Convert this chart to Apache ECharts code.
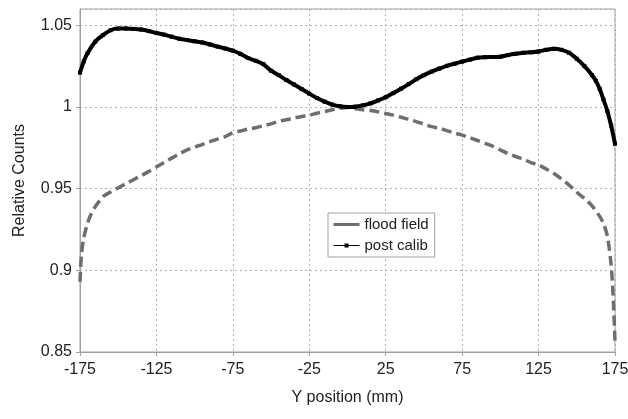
<!DOCTYPE html>
<html>
    <head>
        <meta charset="utf-8">
        <title>Relative Counts</title>
        <script src="https://cdn.jsdelivr.net/npm/echarts@6/dist/echarts.min.js"></script>
        <style>
            html, body { margin: 0; padding: 0; background: #fff; }
            #chart { width: 628px; height: 419px; }
        </style>
    </head>
    <body>
        <div id="chart"></div>
    <script type="text/javascript">
        // post calib (black)
        var calibX = [-175, -172.5, -170, -165, -160, -155, -150, -145, -140, -135, -130, -125, -120, -115, -110, -105, -100, -95, -90, -85, -80, -75, -70, -65, -60, -55, -50, -45, -40, -35, -30, -25, -20, -15, -10, -5, 0, 5, 10, 15, 20, 25, 30, 35, 40, 45, 50, 55, 60, 65, 70, 75, 80, 85, 90, 95, 100, 105, 110, 115, 120, 125, 130, 135, 140, 145, 150, 155, 160, 162.5, 165, 167.5, 170, 172.5, 175];
        var calibY = [1.021, 1.028, 1.033, 1.040, 1.044, 1.047, 1.048, 1.048, 1.0478, 1.0474, 1.0465, 1.0453, 1.0443, 1.0430, 1.0418, 1.0410, 1.0402, 1.0395, 1.0383, 1.0370, 1.0358, 1.0345, 1.0325, 1.0300, 1.0283, 1.0262, 1.0222, 1.0195, 1.0165, 1.0138, 1.0110, 1.0082, 1.0055, 1.0033, 1.0015, 1.0004, 1.0000, 1.0002, 1.0010, 1.0022, 1.0040, 1.0060, 1.0085, 1.0112, 1.0140, 1.0170, 1.0195, 1.0217, 1.0235, 1.0252, 1.0265, 1.0278, 1.0290, 1.0302, 1.0305, 1.0306, 1.0308, 1.0318, 1.0326, 1.0332, 1.0335, 1.0340, 1.0350, 1.0356, 1.0350, 1.0332, 1.0295, 1.0250, 1.0195, 1.0160, 1.0110, 1.0045, 0.9975, 0.9885, 0.9775];

        // flood field (grey dashed)
        var floodX = [-175, -174, -172.5, -170, -167.5, -165, -160, -155, -150, -145, -140, -135, -130, -125, -120, -115, -110, -105, -100, -95, -90, -85, -80, -75, -70, -65, -60, -55, -50, -45, -40, -35, -30, -25, -20, -15, -10, -5, 0, 5, 10, 15, 20, 25, 30, 35, 40, 45, 50, 55, 60, 65, 70, 75, 80, 85, 90, 95, 100, 105, 110, 115, 120, 125, 130, 135, 140, 145, 150, 155, 160, 165, 167.5, 170, 172.5, 174, 175];
        var floodY = [0.893, 0.910, 0.920, 0.929, 0.935, 0.939, 0.945, 0.948, 0.9505, 0.953, 0.9555, 0.958, 0.9605, 0.9633, 0.966, 0.9687, 0.9713, 0.9737, 0.9755, 0.977, 0.9788, 0.9803, 0.9818, 0.9843, 0.9853, 0.9865, 0.9873, 0.9885, 0.9897, 0.9912, 0.9922, 0.9932, 0.9942, 0.9950, 0.9962, 0.9972, 0.9983, 0.9992, 0.9997, 0.9990, 0.9983, 0.9978, 0.9970, 0.9960, 0.9950, 0.9937, 0.9925, 0.9910, 0.9895, 0.9880, 0.9870, 0.9855, 0.9840, 0.9828, 0.9812, 0.9795, 0.9777, 0.9760, 0.9737, 0.9715, 0.9697, 0.9680, 0.9660, 0.9645, 0.9620, 0.9593, 0.9560, 0.9522, 0.9478, 0.9440, 0.9395, 0.9330, 0.9285, 0.9210, 0.9030, 0.880, 0.856];

        var xMin = -175, xMax = 175, xStep = 50;
        var yMin = 0.85, yMax = 1.06, yStep = 0.05;

        function pairs(xs, ys) {
            return xs.map(function (x, i) { return [x, ys[i]]; });
        }

        var font = 'Liberation Sans, Arial, sans-serif';
        var myChart = echarts.init(document.getElementById('chart'));
        myChart.setOption({
            animation: false,
            grid: {
                left: 80, right: 13, top: 9, bottom: 67,
                outerBoundsMode: 'none',
                show: true, borderColor: '#a0a0a0', borderWidth: 1
            },
            legend: {
                left: 328, top: 213,
                orient: 'vertical',
                backgroundColor: '#fff',
                borderColor: '#a0a0a0', borderWidth: 1,
                padding: [4, 6, 4, 4],
                itemGap: 6,
                itemWidth: 26, itemHeight: 5,
                textStyle: { fontFamily: font, fontSize: 15, color: '#222' },
                data: [
                    { name: 'flood field', lineStyle: { type: 'solid', width: 3 }, itemStyle: { opacity: 0 } },
                    { name: 'post calib', lineStyle: { width: 1 } }
                ]
            },
            xAxis: {
                type: 'value',
                min: xMin, max: xMax, interval: xStep,
                name: 'Y position (mm)',
                nameLocation: 'middle', nameGap: 38,
                nameTextStyle: { fontFamily: font, fontSize: 16, color: '#222' },
                axisLine: { onZero: false, lineStyle: { color: '#a0a0a0' } },
                axisTick: { show: true, length: 4, lineStyle: { color: '#a0a0a0' } },
                axisLabel: { margin: 10, fontFamily: font, fontSize: 16, color: '#222' },
                splitLine: { show: true, lineStyle: { color: '#b0b0b0', type: [2, 3] } }
            },
            yAxis: {
                type: 'value',
                min: yMin, max: yMax, interval: yStep,
                name: 'Relative Counts',
                nameLocation: 'middle', nameGap: 52, nameRotate: 90,
                nameTextStyle: { fontFamily: font, fontSize: 16, color: '#222' },
                axisLine: { show: true, onZero: false, lineStyle: { color: '#a0a0a0' } },
                axisTick: { show: true, length: 4, lineStyle: { color: '#a0a0a0' } },
                axisLabel: { margin: 8, showMaxLabel: false, fontFamily: font, fontSize: 16, color: '#222' },
                splitLine: { show: true, lineStyle: { color: '#b0b0b0', type: [2, 3] } }
            },
            series: [
                {
                    name: 'flood field',
                    type: 'line',
                    smooth: 0.3,
                    symbol: 'none',
                    data: pairs(floodX, floodY),
                    itemStyle: { color: '#6e6e6e' },
                    lineStyle: { color: '#6e6e6e', width: 3.5, type: [10, 5] },
                    z: 2
                },
                {
                    name: 'post calib',
                    type: 'line',
                    smooth: 0.3,
                    symbol: 'rect',
                    symbolSize: 4,
                    data: pairs(calibX, calibY),
                    itemStyle: { color: '#000' },
                    lineStyle: { color: '#000', width: 4 },
                    z: 3
                }
            ]
        });
    </script>
    </body>
</html>
